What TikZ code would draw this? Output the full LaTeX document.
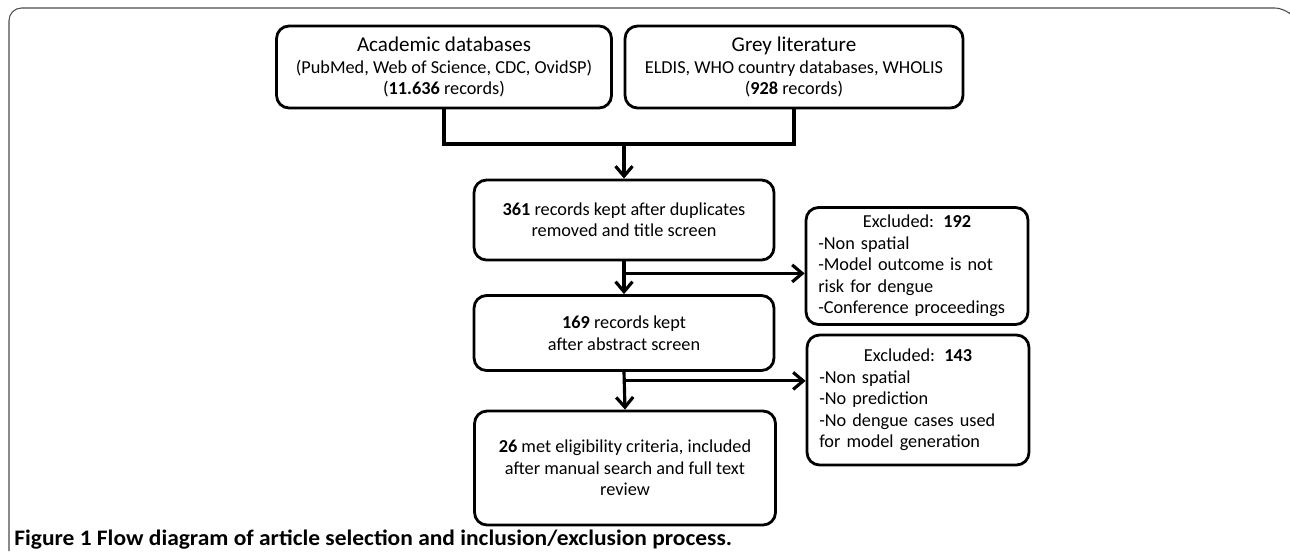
\documentclass[tikz,border=0pt]{standalone}
\usepackage{fontspec}
\setmainfont{Carlito}
\newfontfamily\capfont[FakeStretch=1.06]{Carlito}
\usetikzlibrary{arrows.meta,positioning}
\tikzset{box/.style={draw, line width=1.6pt, rounded corners=0.25cm, align=center,
        font=\fontsize{10.4}{12.2}\selectfont, inner sep=0}}
\tikzset{exclbox/.style={box, text width=3.95cm, align=left}}
\tikzset{flow/.style={line width=1.8pt, -{Straight Barb[length=0.2cm,width=0.34cm]}}}
\tikzset{link/.style={line width=1.8pt}}
\newcommand{\boxhead}[1]{{\fontsize{12}{14}\selectfont #1}}

\begin{document}
\begin{tikzpicture}[x=0.02cm,y=-0.02cm]
\useasboundingbox (0,0) rectangle (1290,551);
% Frame
\draw[gray!60!black, line width=0.6pt, rounded corners=0.25cm] (9,551) -- (9,8) -- (1287,8) -- (1290,12);
% Sources
\node[box, minimum width=6.7cm, minimum height=1.64cm] (acad) at (444,67)
  {\boxhead{Academic databases}\\(PubMed, Web of Science, CDC, OvidSP)\\(\textbf{11.636} records)};
\node[box, minimum width=6.76cm, minimum height=1.64cm] (grey) at (794,67)
  {\boxhead{Grey literature}\\ELDIS, WHO country databases, WHOLIS\\(\textbf{928} records)};
% Screening steps
\node[box, minimum width=6cm, minimum height=1.6cm] (kept) at (624,220)
  {\textbf{361} records kept after duplicates\\removed and title screen};
\node[box, minimum width=6cm, minimum height=1.5cm] (abstr) at (624,333)
  {\textbf{169} records kept\\after abstract screen};
\node[box, minimum width=6.02cm, minimum height=2.28cm] (incl) at (625,468)
  {\textbf{26} met eligibility criteria, included\\after manual search and full text\\review};
% Exclusions
\node[exclbox, minimum width=4.44cm, minimum height=2.34cm] (excl1) at (917,266)
  {\makebox[\linewidth]{Excluded: \textbf{192}}\\-Non spatial\\-Model outcome is not\\risk for dengue\\-Conference proceedings};
\node[exclbox, minimum width=4.44cm, minimum height=2.6cm] (excl2) at (918,400)
  {\makebox[\linewidth]{Excluded: \textbf{143}}\\-Non spatial\\-No prediction\\-No dengue cases used\\for model generation};
% Merge
\coordinate (merge) at (624,144);
\draw[link] (acad.south) |- (merge) -| (grey.south);
\draw[flow] (merge) -- (kept.north);
% Branch 1
\draw[flow] (kept.south) -- (abstr.north);
\path (kept.south) ++(0,12) coordinate (split1);
\draw[flow] (split1) -- (split1 -| excl1.west);
% Branch 2
\draw[flow] (abstr.south) -- (incl.north);
\path (abstr.south) ++(0,9) coordinate (split2);
\draw[flow] (split2) -- (split2 -| excl2.west);
% Caption
\node[anchor=base west, font=\fontsize{12.6}{14}\capfont\bfseries, inner sep=0] (cap) at (14,545)
  {Figure 1 Flow diagram of article selection and inclusion/exclusion process.};
\end{tikzpicture}
\end{document}
